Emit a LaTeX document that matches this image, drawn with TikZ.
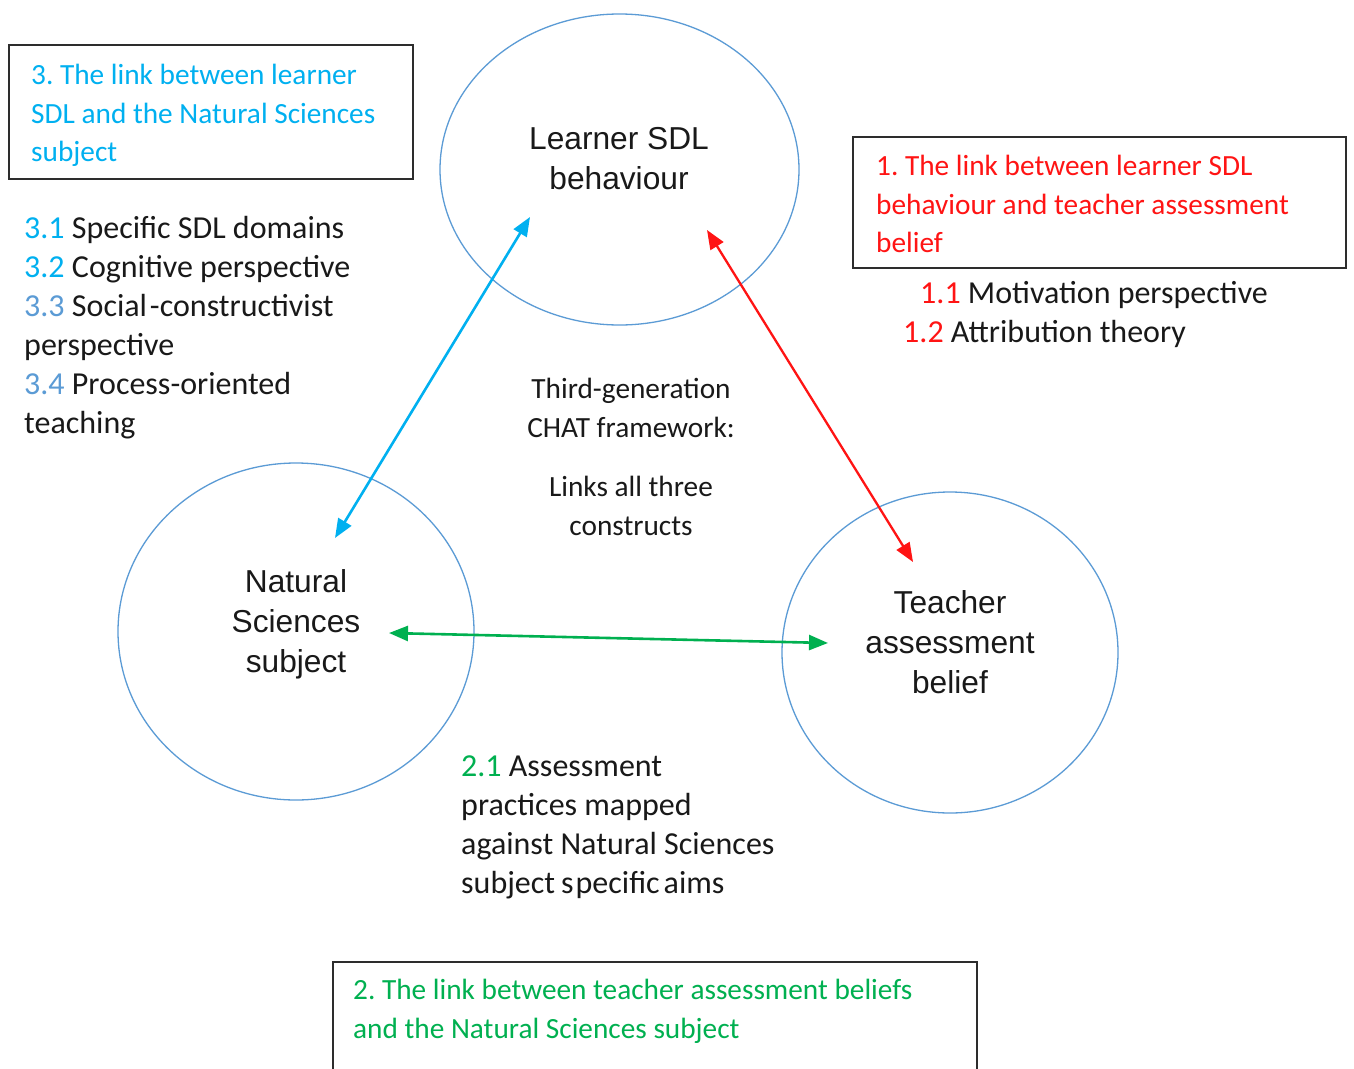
\documentclass[tikz,border=0pt]{standalone}
\usepackage{fontspec}
\setmainfont{Carlito}
\newfontfamily\arialfont{Liberation Sans}
\usetikzlibrary{arrows.meta,shapes.geometric}

\definecolor{skyline}{RGB}{0,176,240}
\definecolor{circblue}{RGB}{91,155,213}
\definecolor{linkred}{RGB}{255,20,20}
\definecolor{linkgreen}{RGB}{0,176,80}
\definecolor{framegray}{RGB}{45,45,45}
\definecolor{bodytext}{RGB}{25,25,25}

% fixed-height strut so that a node's north edge sits a known distance above its first baseline
\newcommand\topstrut{\rule{0pt}{0.8em}}

\frenchspacing
\begin{document}
\begin{tikzpicture}[x=1pt,y=-1pt,
  construct/.style={draw=circblue, line width=1.3pt, ellipse, inner sep=0},
  linkbox/.style={draw=framegray, line width=1.8pt, rectangle, inner sep=0},
  txt/.style={inner sep=0, anchor=north west, align=left, text=bodytext},
  ctxt/.style={inner sep=0, anchor=north, align=center, text=bodytext},
  bigfont/.style={font={\fontsize{32pt}{39pt}\selectfont}},
  smallfont/.style={font={\fontsize{29.3pt}{38.5pt}\selectfont}},
  circfont/.style={font={\arialfont\fontsize{31.7pt}{40pt}\selectfont}},
  tip/.tip={Triangle[length=19pt,width=15pt]},
  link/.style={line width=2.6pt, tip-tip}
]
\useasboundingbox (0,0) rectangle (1354,1068);
\fill[white] (0,0) rectangle (1354,1068);
\clip (0,0) rectangle (1354,1068);

% the three constructs
\node[construct, minimum width=359pt, minimum height=311pt] (learner) at (619.5,169.5) {};
\node[construct, minimum width=356pt, minimum height=337pt] (natural) at (296,631.5) {};
\node[construct, minimum width=336pt, minimum height=321pt] (teacher) at (950,652.5) {};

\node[ctxt, circfont] (learnerlbl) at (619,124) {\topstrut Learner SDL\\behaviour};
\node[ctxt, circfont] (naturallbl) at (296,567) {\topstrut Natural\\Sciences\\subject};
\node[ctxt, circfont] (teacherlbl) at (950,588) {\topstrut Teacher\\assessment\\belief};

% link boxes
\node[linkbox, minimum width=404pt, minimum height=134pt] (box3) at (211,112) {};
\node[linkbox, minimum width=493pt, minimum height=131pt] (box1) at (1099.5,202.5) {};
\node[linkbox, minimum width=644pt, minimum height=160pt] (box2) at (655,1042) {};

\node[txt, smallfont, text=skyline] (box3txt) at (31,61)
  {\topstrut 3. The link between learner\\SDL and the Natural Sciences\\subject};
\node[txt, smallfont, text=linkred] (box1txt) at (876,152)
  {\topstrut 1. The link between learner SDL\\behaviour and teacher assessment\\belief};
\node[txt, smallfont, text=linkgreen] (box2txt) at (353,976)
  {\topstrut 2. The link between teacher assessment beliefs\\and the Natural Sciences subject};

% sub-themes
\node[txt, bigfont] (list3) at (24,213)
  {\topstrut\textcolor{skyline}{3.1} Specific SDL domains\\
   \textcolor{skyline}{3.2} Cognitive perspective\\
   \textcolor{circblue}{3.3} Social\hspace{3pt}-constructivist\\
   perspective\\
   \textcolor{circblue}{3.4} Process-oriented\\
   teaching};
\node[txt, bigfont] (item11) at (920,278) {\topstrut\textcolor{linkred}{1.1} Motivation perspective};
\node[txt, bigfont] (item12) at (903,317) {\topstrut\textcolor{linkred}{1.2} Attribution theory};
\node[txt, bigfont] (item21) at (461,751)
  {\topstrut\textcolor{linkgreen}{2.1} Assessment\\
   practices mapped\\
   against Natural Sciences\\
   subject\hspace{6pt}s\hspace{2pt}pecific\hspace{4pt}aims};

% framework note
\node[ctxt, smallfont] (chat) at (631,375)
  {\topstrut Third-generation\\CHAT framework:\\[21pt]Links all three\\constructs};

% connectors
\coordinate (b1) at (530,217);
\coordinate (b2) at (335,538);
\coordinate (r1) at (707,230);
\coordinate (r2) at (913,562);
\coordinate (g1) at (389,633);
\coordinate (g2) at (828,643);
\draw[link, skyline] (b1) -- (b2);
\draw[link, linkred, line width=2.3pt] (r1) -- (r2);
\draw[link, linkgreen] (g1) -- (g2);
\end{tikzpicture}
\end{document}
